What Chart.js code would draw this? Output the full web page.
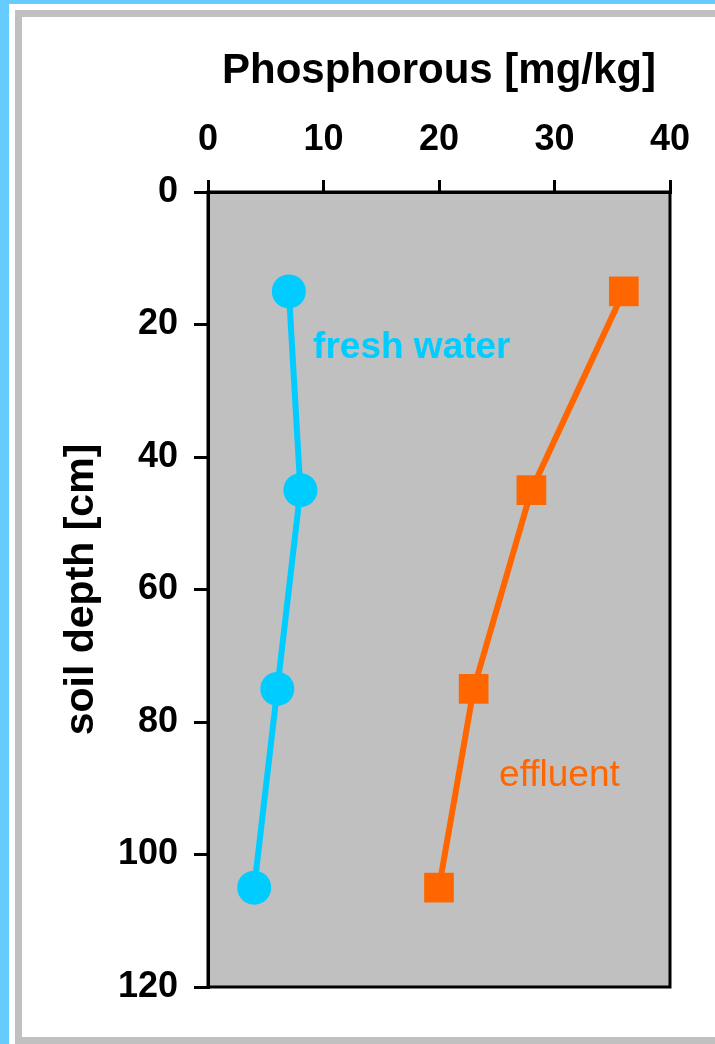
<!DOCTYPE html>
<html>
<head>
<meta charset="utf-8">
<script src="https://cdn.jsdelivr.net/npm/chart.js@4/dist/chart.umd.min.js"></script>
<style>
  html, body { margin: 0; padding: 0; background: #fff; overflow: hidden; }
  body { width: 715px; height: 1044px; position: relative; }
  .blue-left { position: absolute; left: 0; top: 0; width: 9px; height: 1044px; background: #66ccff; }
  .blue-top { position: absolute; left: 0; top: 0; width: 715px; height: 4px; background: #66ccff; }
  .frame { position: absolute; left: 15px; top: 10px; width: 730px; height: 1034px; border: 7px solid #c0c0c0; box-sizing: border-box; }
  #chart { position: absolute; left: 0; top: 0; }
</style>
</head>
<body>
<div class="blue-left"></div>
<div class="blue-top"></div>
<div class="frame"></div>
<canvas id="chart" width="715" height="1044"></canvas>
<script>
// soil depth profile
const depths = [15, 45, 75, 105];          // cm
const freshWater = [7, 8, 6, 4];           // mg/kg
const effluent = [36, 28, 23, 20];         // mg/kg
const xTicks = [0, 10, 20, 30, 40];
const yTicks = [0, 20, 40, 60, 80, 100, 120];

// where the series names sit, in data units (x, y of text baseline start)
const labelAnchors = [
  { text: 'fresh water', x: 9.1, y: 25.1, color: '#00ccff', weight: 'bold' },
  { text: 'effluent', x: 25.2, y: 89.7, color: '#ff6600', weight: 'normal' }
];

const FONT = '"Liberation Sans", Arial, sans-serif';

function toPoints(xs){
  return xs.map((v, i) => ({ x: v, y: depths[i] }));
}

// gray plot area + black box round it
const plotBox = {
  id: 'plotBox',
  beforeDraw(chart){
    const a = chart.chartArea, ctx = chart.ctx;
    ctx.save();
    ctx.fillStyle = '#c0c0c0';
    ctx.fillRect(a.left, a.top, a.right - a.left, a.bottom - a.top);
    ctx.restore();
  },
  afterDraw(chart){
    const a = chart.chartArea, ctx = chart.ctx;
    ctx.save();
    ctx.strokeStyle = '#000';
    ctx.lineWidth = 3;
    ctx.strokeRect(a.left, a.top, a.right - a.left, a.bottom - a.top);
    ctx.restore();
  }
};

// series names written inside the plot
const seriesLabels = {
  id: 'seriesLabels',
  afterDatasetsDraw(chart){
    const ctx = chart.ctx, xs = chart.scales.x, ys = chart.scales.y;
    ctx.save();
    ctx.textBaseline = 'alphabetic';
    ctx.textAlign = 'left';
    labelAnchors.forEach(l => {
      ctx.font = l.weight + ' 37px ' + FONT;
      ctx.fillStyle = l.color;
      ctx.fillText(l.text, xs.getPixelForValue(l.x), ys.getPixelForValue(l.y));
    });
    ctx.restore();
  }
};

new Chart(document.getElementById('chart'), {
  type: 'scatter',
  data: {
    datasets: [
      {
        label: 'fresh water',
        data: toPoints(freshWater),
        showLine: true,
        borderColor: '#00ccff',
        backgroundColor: '#00ccff',
        borderWidth: 6,
        pointStyle: 'circle',
        pointRadius: 17,
        pointBorderWidth: 0
      },
      {
        label: 'effluent',
        data: toPoints(effluent),
        showLine: true,
        borderColor: '#ff6600',
        backgroundColor: '#ff6600',
        borderWidth: 6,
        pointStyle: 'rect',
        pointRadius: 21,
        pointBorderWidth: 0
      }
    ]
  },
  options: {
    responsive: false,
    animation: false,
    layout: { padding: { top: 17, left: 22, right: 45, bottom: 57 } },
    plugins: { legend: { display: false }, tooltip: { enabled: false } },
    scales: {
      x: {
        type: 'linear',
        position: 'top',
        min: 0, max: 40,
        afterBuildTicks(s){ s.ticks = xTicks.map(v => ({ value: v })); },
        afterFit(s){ s.height = 175; },
        ticks: { color: '#000', font: { family: FONT, size: 36, weight: 'bold' }, padding: 18, maxRotation: 0 },
        grid: { drawOnChartArea: false, color: '#000', lineWidth: 3, tickLength: 12 },
        border: { color: '#000', width: 3 },
        title: { display: true, text: 'Phosphorous [mg/kg]', color: '#000',
                 font: { family: FONT, size: 42, weight: 'bold' }, padding: { top: 29, bottom: 0 } }
      },
      y: {
        type: 'linear',
        position: 'left',
        reverse: true,
        min: 0, max: 120,
        afterBuildTicks(s){ s.ticks = yTicks.map(v => ({ value: v })); },
        afterFit(s){ s.width = 186; },
        ticks: { color: '#000', font: { family: FONT, size: 36, weight: 'bold' }, padding: 16 },
        grid: { drawOnChartArea: false, color: '#000', lineWidth: 3, tickLength: 14 },
        border: { color: '#000', width: 3 },
        title: { display: true, text: 'soil depth [cm]', color: '#000',
                 font: { family: FONT, size: 41, weight: 'bold' }, padding: { top: 35, bottom: 0 } }
      }
    }
  },
  plugins: [plotBox, seriesLabels]
});
</script>
</body>
</html>
